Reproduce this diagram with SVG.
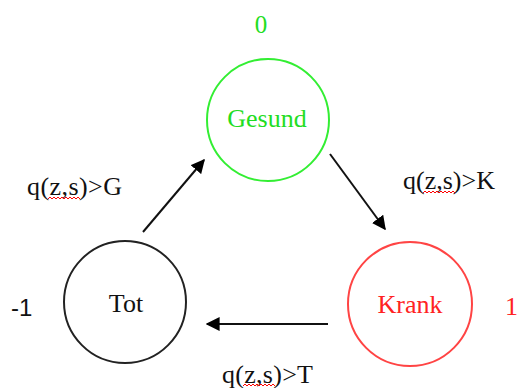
<svg xmlns="http://www.w3.org/2000/svg" width="520" height="388" viewBox="0 0 520 388">
<style>
text{font-family:"Liberation Serif","Times New Roman",serif;font-size:26px}
.c{text-anchor:middle}
.node{fill:none;stroke-width:2}
.edge{stroke:#111;stroke-width:2;fill:none;marker-end:url(#ah)}
.sq{fill:none;stroke:#f00;stroke-width:1}
</style>
<defs>
<marker id="ah" viewBox="0 0 10 10" refX="9" refY="5" markerWidth="7" markerHeight="7" markerUnits="strokeWidth" orient="auto">
<path d="M0,0 L10,5 L0,10 z" fill="#000"/>
</marker>
</defs>
<rect width="520" height="388" fill="#fff"/>
<g id="gesund">
<circle class="node" cx="268" cy="120" r="61" stroke="#33ee33"/>
<text class="c" x="267" y="127" fill="#22dd22">Gesund</text>
<text class="c" x="261" y="33" fill="#22dd22" style="font-size:25px">0</text>
</g>
<g id="krank">
<circle class="node" cx="410" cy="304" r="62" stroke="#ff4444"/>
<text class="c" x="410" y="313" fill="#ff2222">Krank</text>
<text x="505" y="315" fill="#ff2222">1</text>
</g>
<g id="tot">
<circle class="node" cx="125" cy="302" r="61" stroke="#222"/>
<text class="c" x="126" y="312" fill="#111">Tot</text>
<text x="11" y="316" fill="#111" style="font-family:'Liberation Sans',Arial,sans-serif;font-size:24px">-1</text>
</g>
<g id="connectors">
<line class="edge" x1="143" y1="232" x2="204" y2="160"/>
<line class="edge" x1="330" y1="154" x2="385" y2="229"/>
<line class="edge" x1="328" y1="324" x2="207" y2="324"/>
</g>
<g id="labels">
<text x="27" y="195" fill="#111" textLength="95">q(z,s)&gt;G</text>
<path class="sq" d="M48,199 l2,-2 l2,2 l2,-2 l2,2 l2,-2 l2,2 l2,-2 l2,2 l2,-2 l2,2 l2,-2 l2,2 l2,-2 l2,2 l2,-2 l2,2"/>
<text x="403" y="189" fill="#111" textLength="92">q(z,s)&gt;K</text>
<path class="sq" d="M423,193 l2,-2 l2,2 l2,-2 l2,2 l2,-2 l2,2 l2,-2 l2,2 l2,-2 l2,2 l2,-2 l2,2 l2,-2 l2,2 l2,-2 l2,2"/>
<text x="222" y="383" fill="#111" textLength="91">q(z,s)&gt;T</text>
<path class="sq" d="M243,386 l2,-2 l2,2 l2,-2 l2,2 l2,-2 l2,2 l2,-2 l2,2 l2,-2 l2,2 l2,-2 l2,2 l2,-2 l2,2 l2,-2 l2,2"/>
</g>
</svg>
